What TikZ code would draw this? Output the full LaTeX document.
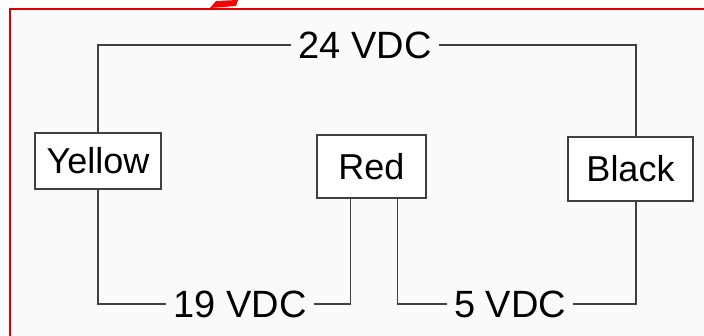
\documentclass[tikz,border=0pt]{standalone}
\usepackage{fontspec}
\setmainfont{Liberation Sans}
\usetikzlibrary{positioning}

\begin{document}
\begin{tikzpicture}[
      x=1pt, y=-1pt,
      line join=miter,
      wire/.style={draw=black!75, line width=1.3pt},
      lead/.style={draw=black!75, line width=1.3pt, fill=white,
        inner sep=0pt, font=\fontsize{36}{40}\selectfont},
      volts/.style={inner sep=0pt, inner xsep=7pt,
        font=\fontsize{38}{42}\selectfont},
    ]
    %% Page, with the red frame of the screenshot.
    \useasboundingbox (0,0) rectangle (704,336);
    \fill[white] (0,0) rectangle (704,336);
    \fill[gray!4] (10,9) rectangle (704,336);
    \draw[red!85!black, line width=2pt] (10,336) -- (10,9) -- (704,9);
    \fill[red] (210,8) -- (216,1) -- (238,0) -- (236,6) -- cycle;
    %% Wire leads.
    \node[lead, minimum width=126pt, minimum height=56pt] (yellow) at (98,161) {Yellow};
    \node[lead, minimum width=109pt, minimum height=63pt] (red) at (371.5,166.5) {Red};
    \node[lead, minimum width=125pt, minimum height=64pt] (black) at (630.5,169) {Black};
    %% Voltages between the leads.
    \node[volts] (v24) at (365,45) {24 VDC};
    \node[volts] (v19) at (240,304) {19 VDC};
    \node[volts] (v5)  at (510,304) {5 VDC};
    %% Wires.
    \draw[wire] (yellow.north) |- (v24.west);
    \draw[wire] (v24.east) -| ([xshift=5.5pt]black.north);
    \draw[wire] (yellow.south) |- (v19.west);
    \draw[wire] (v19.east) -| ([xshift=34pt]red.south west);
    \draw[wire] ([xshift=-29pt]red.south east) |- (v5.west);
    \draw[wire] (v5.east) -| ([xshift=5.5pt]black.south);
  \end{tikzpicture}
\end{document}
